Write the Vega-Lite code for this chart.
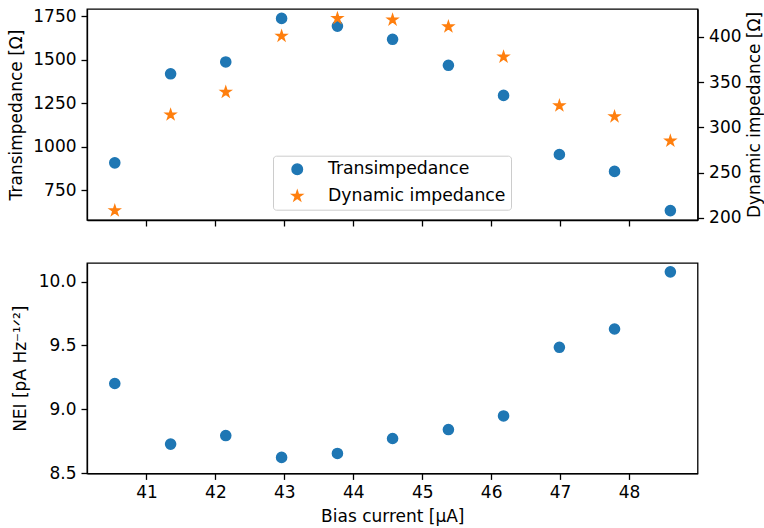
{
  "$schema": "https://vega.github.io/schema/vega-lite/v6.json",
  "autosize": {"type": "pad"},
  "padding": {"left": 7, "top": 6, "right": 1, "bottom": 2},
  "background": "white",
  "bounds": "flush",
  "spacing": 43,
  "datasets": {
    "imp": [
      {"bias": 40.54, "series": "Transimpedance", "value": 908},
      {"bias": 41.35, "series": "Transimpedance", "value": 1419},
      {"bias": 42.15, "series": "Transimpedance", "value": 1487},
      {"bias": 42.96, "series": "Transimpedance", "value": 1737},
      {"bias": 43.77, "series": "Transimpedance", "value": 1693},
      {"bias": 44.57, "series": "Transimpedance", "value": 1617},
      {"bias": 45.38, "series": "Transimpedance", "value": 1468},
      {"bias": 46.18, "series": "Transimpedance", "value": 1295},
      {"bias": 46.99, "series": "Transimpedance", "value": 956},
      {"bias": 47.79, "series": "Transimpedance", "value": 859},
      {"bias": 48.6, "series": "Transimpedance", "value": 634},
      {"bias": 40.54, "series": "Dynamic impedance", "value": 208},
      {"bias": 41.35, "series": "Dynamic impedance", "value": 314},
      {"bias": 42.15, "series": "Dynamic impedance", "value": 339},
      {"bias": 42.96, "series": "Dynamic impedance", "value": 401},
      {"bias": 43.77, "series": "Dynamic impedance", "value": 420.6},
      {"bias": 44.57, "series": "Dynamic impedance", "value": 419},
      {"bias": 45.38, "series": "Dynamic impedance", "value": 411.4},
      {"bias": 46.18, "series": "Dynamic impedance", "value": 378},
      {"bias": 46.99, "series": "Dynamic impedance", "value": 324},
      {"bias": 47.79, "series": "Dynamic impedance", "value": 312},
      {"bias": 48.6, "series": "Dynamic impedance", "value": 285}
    ],
    "nei": [
      {"bias": 40.54, "nei": 9.203},
      {"bias": 41.35, "nei": 8.729},
      {"bias": 42.15, "nei": 8.796},
      {"bias": 42.96, "nei": 8.625},
      {"bias": 43.77, "nei": 8.656},
      {"bias": 44.57, "nei": 8.773},
      {"bias": 45.38, "nei": 8.843},
      {"bias": 46.18, "nei": 8.949},
      {"bias": 46.99, "nei": 9.486},
      {"bias": 47.79, "nei": 9.629},
      {"bias": 48.6, "nei": 10.076}
    ]
  },
  "config": {
    "font": "DejaVu Sans",
    "view": {"stroke": "black", "strokeWidth": 1.3},
    "axis": {
      "grid": false,
      "domainColor": "black",
      "domainWidth": 1.3,
      "tickColor": "black",
      "tickWidth": 1.3,
      "tickSize": 6,
      "labelPadding": 5,
      "labelFont": "DejaVu Sans",
      "labelFontSize": 17,
      "labelColor": "black",
      "titleFont": "DejaVu Sans",
      "titleFontSize": 17,
      "titleFontWeight": "normal",
      "titleColor": "black"
    },
    "legend": {
      "labelFont": "DejaVu Sans",
      "labelFontSize": 17.3,
      "labelColor": "black",
      "labelLimit": 400
    }
  },
  "vconcat": [
    {
      "width": 610.6,
      "height": 211,
      "data": {"name": "imp"},
      "encoding": {
        "x": {
          "field": "bias",
          "type": "quantitative",
          "scale": {"domain": [40.137, 48.995], "nice": false, "zero": false},
          "axis": {"values": [41, 42, 43, 44, 45, 46, 47, 48], "labels": false, "title": null}
        },
        "color": {
          "field": "series",
          "type": "nominal",
          "scale": {"domain": ["Transimpedance", "Dynamic impedance"], "range": ["#1f77b4", "#ff7f0e"]},
          "legend": {
            "title": null,
            "orient": "none",
            "legendX": 186,
            "legendY": 146.7,
            "padding": 5,
            "rowPadding": 8.7,
            "symbolOffset": 10.6,
            "labelOffset": 22,
            "symbolSize": 110,
            "symbolStrokeWidth": 1.5,
            "strokeColor": "#cccccc",
            "fillColor": "rgba(255,255,255,0.8)",
            "cornerRadius": 3
          }
        },
        "stroke": {
          "field": "series",
          "type": "nominal",
          "scale": {"domain": ["Transimpedance", "Dynamic impedance"], "range": ["#1f77b4", "#ff7f0e"]},
          "legend": {
            "title": null,
            "orient": "none",
            "legendX": 186,
            "legendY": 146.7,
            "padding": 5,
            "rowPadding": 8.7,
            "symbolOffset": 10.6,
            "labelOffset": 22,
            "symbolSize": 110,
            "symbolStrokeWidth": 1.5,
            "strokeColor": "#cccccc",
            "fillColor": "rgba(255,255,255,0.8)",
            "cornerRadius": 3
          }
        },
        "shape": {
          "field": "series",
          "type": "nominal",
          "scale": {"domain": ["Transimpedance", "Dynamic impedance"], "range": ["circle", "M0,-1L0.2245,-0.309L0.9511,-0.309L0.3633,0.118L0.5878,0.809L0,0.382L-0.5878,0.809L-0.3633,0.118L-0.9511,-0.309L-0.2245,-0.309Z"]},
          "legend": {
            "title": null,
            "orient": "none",
            "legendX": 186,
            "legendY": 146.7,
            "padding": 5,
            "rowPadding": 8.7,
            "symbolOffset": 10.6,
            "labelOffset": 22,
            "symbolSize": 110,
            "symbolStrokeWidth": 1.5,
            "strokeColor": "#cccccc",
            "fillColor": "rgba(255,255,255,0.8)",
            "cornerRadius": 3
          }
        }
      },
      "layer": [
        {
          "transform": [{"filter": "datum.series === 'Transimpedance'"}],
          "mark": {"type": "point", "filled": true, "size": 100, "strokeWidth": 1.6, "opacity": 1},
          "encoding": {
            "y": {
              "field": "value",
              "type": "quantitative",
              "scale": {"domain": [580, 1791], "nice": false, "zero": false},
              "axis": {"orient": "left", "values": [750, 1000, 1250, 1500, 1750], "format": "d", "title": "Transimpedance [Ω]", "titlePadding": 7}
            }
          }
        },
        {
          "transform": [{"filter": "datum.series === 'Dynamic impedance'"}],
          "mark": {"type": "point", "filled": true, "size": 100, "strokeWidth": 1.6, "opacity": 1},
          "encoding": {
            "y": {
              "field": "value",
              "type": "quantitative",
              "scale": {"domain": [197.6, 430.9], "nice": false, "zero": false},
              "axis": {"orient": "right", "values": [200, 250, 300, 350, 400], "format": "d", "title": "Dynamic impedance [Ω]", "titleAngle": 270, "titleBaseline": "top", "titlePadding": 5}
            }
          }
        }
      ],
      "resolve": {"scale": {"y": "independent"}}
    },
    {
      "width": 610.6,
      "height": 210.4,
      "data": {"name": "nei"},
      "mark": {"type": "point", "filled": true, "size": 100, "strokeWidth": 1.6, "opacity": 1, "color": "#1f77b4", "stroke": "#1f77b4"},
      "encoding": {
        "x": {
          "field": "bias",
          "type": "quantitative",
          "scale": {"domain": [40.137, 48.995], "nice": false, "zero": false},
          "axis": {"values": [41, 42, 43, 44, 45, 46, 47, 48], "title": "Bias current [μA]", "titlePadding": 8}
        },
        "y": {
          "field": "nei",
          "type": "quantitative",
          "scale": {"domain": [8.5, 10.145], "nice": false, "zero": false},
          "axis": {"values": [8.5, 9.0, 9.5, 10.0], "format": ".1f", "title": "NEI [pA Hz⁻¹ᐟ²]", "titlePadding": 9}
        }
      }
    }
  ]
}
